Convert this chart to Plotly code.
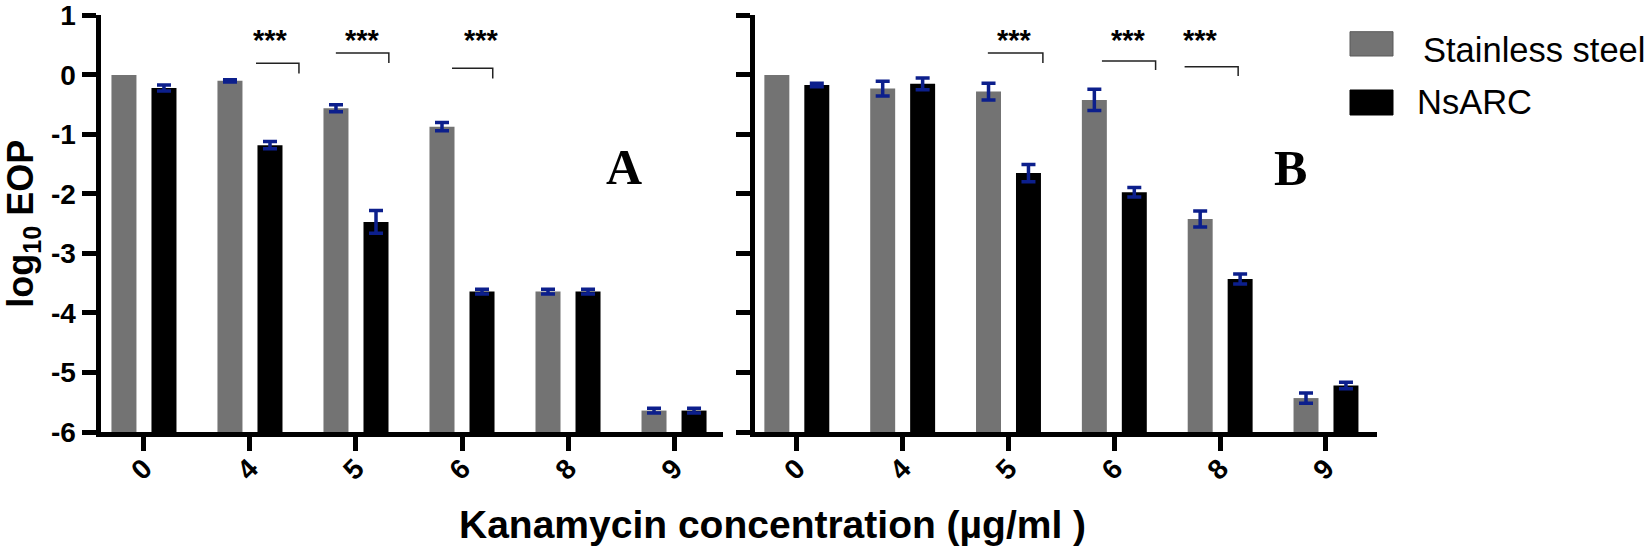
import plotly.graph_objects as go

# ---------------- data ----------------
categories = ["0", "4", "5", "6", "8", "9"]
series_names = ["Stainless steel", "NsARC"]

# Panel A
a_steel = [0.0, -0.10, -0.56, -0.87, -3.64, -5.64]
a_steel_err = [None, 0.02, 0.06, 0.07, 0.04, 0.04]
a_nsarc = [-0.22, -1.18, -2.47, -3.64, -3.64, -5.64]
a_nsarc_err = [0.05, 0.06, 0.19, 0.04, 0.04, 0.04]

# Panel B
b_steel = [0.0, -0.23, -0.28, -0.42, -2.42, -5.43]
b_steel_err = [None, 0.125, 0.14, 0.18, 0.135, 0.085]
b_nsarc = [-0.17, -0.15, -1.65, -1.97, -3.43, -5.22]
b_nsarc_err = [0.03, 0.10, 0.145, 0.08, 0.085, 0.055]

y_ticks = [-6, -5, -4, -3, -2, -1, 0, 1]
BASELINE = -6  # bars are drawn up from the bottom of the axis (GraphPad style)

# significance marks: (category index, label)
sig_marks_a = [(1, "***"), (2, "***"), (3, "***")]
sig_marks_b = [(2, "***"), (3, "***"), (4, "***")]

# ---------------- style ----------------
W, H = 1652, 548
GRAY = "#737373"
BLACK = "#000000"
ERR = "#0c1f8c"
FONT = "Liberation Sans, Arial, sans-serif"
SERIF = "Liberation Serif, Times New Roman, serif"


def py(px):
    return 1 - px / H


def px_x(px):
    return px / W


y_dom = [py(432.0), py(15.4)]

fig = go.Figure()


def add_bars(vals, errs, color, name, xa, ya):
    fig.add_trace(go.Bar(
        x=list(range(len(categories))),
        y=[v - BASELINE for v in vals],
        base=BASELINE,
        name=name,
        customdata=vals,
        hovertemplate="%{customdata}<extra>" + name + "</extra>",
        marker=dict(color=color, line=dict(width=0)),
        # "NaN" (not null) so plotly.js skips the error bar entirely
        error_y=dict(type="data", array=["NaN" if e is None else e for e in errs],
                     visible=True, color=ERR, thickness=3.5, width=7),
        xaxis=xa, yaxis=ya, showlegend=False, offsetgroup=name,
    ))


add_bars(a_steel, a_steel_err, GRAY, series_names[0], "x", "y")
add_bars(a_nsarc, a_nsarc_err, BLACK, series_names[1], "x", "y")
add_bars(b_steel, b_steel_err, GRAY, series_names[0], "x2", "y2")
add_bars(b_nsarc, b_nsarc_err, BLACK, series_names[1], "x2", "y2")

axis_common = dict(showline=True, linewidth=5, linecolor="black", showgrid=False,
                   zeroline=False, ticks="outside", ticklen=14, tickwidth=5,
                   tickcolor="black", automargin=False)
tickfont = dict(family=FONT, size=28, color="black", weight="bold")
xs = list(range(len(categories)))

fig.update_layout(
    width=W, height=H, margin=dict(l=0, r=0, t=0, b=0, pad=0),
    paper_bgcolor="white", plot_bgcolor="white",
    barmode="group", bargap=0.245, bargroupgap=0.375,
    xaxis=dict(domain=[px_x(100.5), px_x(723)], range=[-0.41, 5.462],
               tickvals=xs, ticktext=categories, tickangle=-45, tickfont=tickfont,
               ticklabelstandoff=-10, anchor="y", **axis_common),
    yaxis=dict(domain=y_dom, range=[-6, 1], tickvals=y_ticks,
               ticktext=[str(v) for v in y_ticks], tickfont=tickfont,
               anchor="x",
               title=dict(text="log<sub>10</sub> EOP", standoff=14,
                          font=dict(family=FONT, size=36, color="black", weight="bold")),
               **axis_common),
    xaxis2=dict(domain=[px_x(754.5), px_x(1377)], range=[-0.40, 5.482],
                tickvals=xs, ticktext=categories, tickangle=-45, tickfont=tickfont,
                ticklabelstandoff=-10, anchor="y2", **axis_common),
    yaxis2=dict(domain=y_dom, range=[-6, 1], tickvals=y_ticks,
                showticklabels=False, anchor="x2", **axis_common),
)

# significance brackets (offsets relative to category position, y in pixels)
bracket_geom_a = [(0.057, 0.462, 0.19, 63.3, 73.4),
                  (-0.19, 0.31, 0.06, 53.1, 62.9),
                  (-0.094, 0.29, 0.18, 68.2, 78.6)]
bracket_geom_b = [(-0.195, 0.325, 0.06, 53.1, 62.9),
                  (-0.117, 0.39, 0.13, 61.0, 70.0),
                  (-0.336, 0.17, -0.19, 66.7, 76.0)]


def add_sig(marks, geoms, xref):
    for (ci, label), (d0, d1, ds, yl, yd) in zip(marks, geoms):
        fig.add_shape(type="path", xref=xref, yref="paper",
                      path=f"M {ci + d0},{py(yl)} L {ci + d1},{py(yl)} L {ci + d1},{py(yd)}",
                      line=dict(color="#222222", width=1.5))
        fig.add_annotation(x=ci + ds, xref=xref, y=py(40.5), yref="paper",
                           text=label, showarrow=False, xanchor="center", yanchor="middle",
                           font=dict(family=FONT, size=29, color="black", weight="bold"))


add_sig(sig_marks_a, bracket_geom_a, "x")
add_sig(sig_marks_b, bracket_geom_b, "x2")

# panel letters
fig.add_annotation(x=px_x(624), y=py(167), xref="paper", yref="paper", text="<b>A</b>",
                   showarrow=False, xanchor="center", yanchor="middle",
                   font=dict(family=SERIF, size=50, color="black"))
fig.add_annotation(x=px_x(1290), y=py(168), xref="paper", yref="paper", text="<b>B</b>",
                   showarrow=False, xanchor="center", yanchor="middle",
                   font=dict(family=SERIF, size=50, color="black"))

# shared x-axis title
fig.add_annotation(x=px_x(772), y=py(524), xref="paper", yref="paper",
                   text="Kanamycin concentration (µg/ml )", showarrow=False,
                   xanchor="center", yanchor="middle",
                   font=dict(family=FONT, size=39, color="black", weight="bold"))

# legend (drawn manually to match the large swatches)
legend_items = [(series_names[0], GRAY, 31.7, 56.0, 50.5, 1421),
                (series_names[1], BLACK, 90.0, 115.0, 101.5, 1415)]
for name, col, y0, y1, ty, tx in legend_items:
    fig.add_shape(type="rect", xref="paper", yref="paper",
                  x0=px_x(1350), x1=px_x(1393), y0=py(y1), y1=py(y0),
                  fillcolor=col, line=dict(color="#5a5a5a" if col == GRAY else col, width=1))
    fig.add_annotation(x=px_x(tx), y=py(ty), xref="paper", yref="paper", text=name,
                       showarrow=False, xanchor="left", yanchor="middle",
                       font=dict(family=FONT, size=34.5, color="black"))

fig.write_html("out.html", config={"displayModeBar": False},
               post_script="document.body.style.margin='0px';")
